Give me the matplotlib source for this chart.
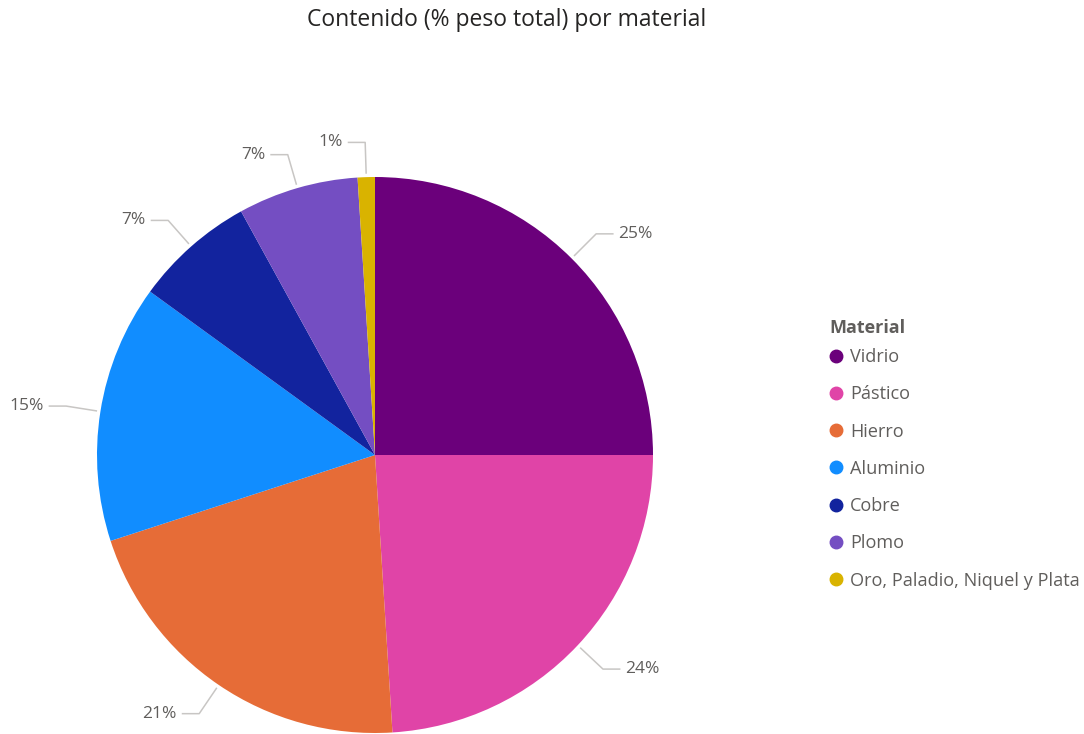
import numpy as np
import matplotlib
matplotlib.use("Agg")
import matplotlib.pyplot as plt
from matplotlib.lines import Line2D

plt.rcParams['font.family'] = ['Open Sans', 'DejaVu Sans']

materials = ['Vidrio', 'Pástico', 'Hierro', 'Aluminio', 'Cobre', 'Plomo',
             'Oro, Paladio, Niquel y Plata']
shares = [25, 24, 21, 15, 7, 7, 1]
colors = ['#6B007B', '#E044A7', '#E66C37', '#118DFF', '#12239E', '#744EC2', '#D9B300']

W, H = 1084, 734
fig = plt.figure(figsize=(W / 100, H / 100), dpi=100)

# pie centre and radius in pixels
cx, cy, rad = 375, 455, 278
ax = fig.add_axes([(cx - rad) / W, (H - cy - rad) / H, 2 * rad / W, 2 * rad / H])
ax.axis('off')

wedges, _ = ax.pie(shares, colors=colors, startangle=90, counterclock=False,
                   radius=1, center=(0, 0), frame=False,
                   wedgeprops=dict(linewidth=0))
ax.set_xlim(-1, 1)
ax.set_ylim(-1, 1)
ax.set_aspect('auto')

line_col = '#C8C6C4'
text_col = '#605E5C'
for w, val in zip(wedges, shares):
    ang = np.deg2rad((w.theta1 + w.theta2) / 2)
    c, s = np.cos(ang), np.sin(ang)
    x0, y0 = 1.015 * c, 1.015 * s
    x1, y1 = 1.125 * c, 1.125 * s
    side = 1 if c >= 0 else -1
    x2 = x1 + side * 0.06
    ax.plot([x0, x1, x2], [y0, y1, y1], color=line_col, lw=1.1, clip_on=False)
    ax.text(x2 + side * 0.02, y1, f'{val}%', ha='left' if side > 0 else 'right',
            va='center', fontsize=12.5, color=text_col, clip_on=False)

fig.text(507 / W, 1 - 20 / H, 'Contenido (% peso total) por material',
         ha='center', va='center', fontsize=16.5, color='#252423')

# legend: title as separate text, entries below
fig.text(829 / W, 1 - 328 / H, 'Material', ha='left', va='center',
         fontsize=13, fontweight='bold', color='#605E5C')
handles = [Line2D([], [], linestyle='', marker='o', markersize=9,
                  markerfacecolor=col, markeredgecolor=col) for col in colors]
leg = fig.legend(handles, materials, loc='upper left',
                 bbox_to_anchor=(830 / W, 1 - 348 / H), frameon=False,
                 fontsize=13.1, labelspacing=1.06, handlelength=0.7,
                 handletextpad=0.4, borderaxespad=0, borderpad=0)
for t in leg.get_texts():
    t.set_color(text_col)

fig.savefig('out.png', dpi=100, facecolor='white')
